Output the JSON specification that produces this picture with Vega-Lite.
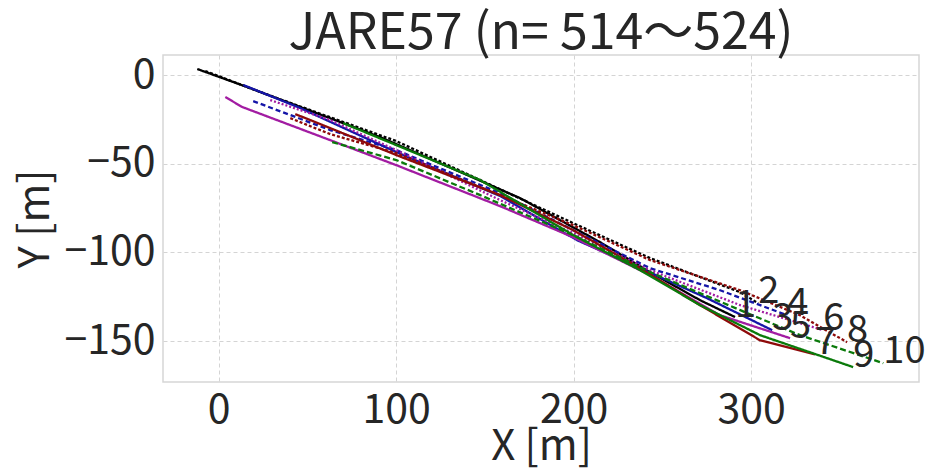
{
  "$schema": "https://vega.github.io/schema/vega-lite/v6.json",
  "width": 756,
  "height": 327,
  "autosize": {"type": "none"},
  "padding": {"left": 163, "top": 55, "right": 16, "bottom": 90},
  "background": "white",
  "config": {
    "font": "Noto Sans CJK JP",
    "view": {"stroke": "#d6d6d6", "strokeWidth": 1.5},
    "axis": {
      "domain": false,
      "ticks": false,
      "grid": true,
      "gridColor": "#d4d4d4",
      "gridDash": [4, 3],
      "gridWidth": 1,
      "labelFont": "Noto Sans CJK JP",
      "labelFontSize": 41,
      "labelColor": "#262626",
      "labelPadding": 8,
      "titleFont": "Noto Sans CJK JP",
      "titleFontSize": 42,
      "titleFontWeight": "normal",
      "titleColor": "#262626"
    }
  },
  "title": {
    "text": "JARE57 (n= 514〜524)",
    "font": "Noto Sans CJK JP",
    "fontSize": 50,
    "fontWeight": "normal",
    "color": "#262626",
    "anchor": "middle",
    "offset": -5
  },
  "datasets": {
    "tracks": [
      {"id": 1, "i": 0, "x": -12.0, "y": 3.4},
      {"id": 1, "i": 1, "x": 16.2, "y": -6.8},
      {"id": 1, "i": 2, "x": 91.1, "y": -35.0},
      {"id": 1, "i": 3, "x": 169.9, "y": -69.4},
      {"id": 1, "i": 4, "x": 214.9, "y": -94.2},
      {"id": 1, "i": 5, "x": 243.0, "y": -111.1},
      {"id": 1, "i": 6, "x": 271.2, "y": -126.9},
      {"id": 1, "i": 7, "x": 290.9, "y": -136.4},

      {"id": 2, "i": 0, "x": -7.5, "y": 2.3},
      {"id": 2, "i": 1, "x": 23.5, "y": -9.6},
      {"id": 2, "i": 2, "x": 100.1, "y": -37.2},
      {"id": 2, "i": 3, "x": 147.4, "y": -59.2},
      {"id": 2, "i": 4, "x": 199.8, "y": -83.5},
      {"id": 2, "i": 5, "x": 243.1, "y": -103.2},
      {"id": 2, "i": 6, "x": 293.8, "y": -122.4},
      {"id": 2, "i": 7, "x": 303.9, "y": -128.6},

      {"id": 3, "i": 0, "x": 13.9, "y": -5.6},
      {"id": 3, "i": 1, "x": 46.0, "y": -18.6},
      {"id": 3, "i": 2, "x": 100.1, "y": -43.4},
      {"id": 3, "i": 3, "x": 158.6, "y": -68.2},
      {"id": 3, "i": 4, "x": 202.0, "y": -93.1},
      {"id": 3, "i": 5, "x": 237.5, "y": -108.9},
      {"id": 3, "i": 6, "x": 275.2, "y": -125.8},
      {"id": 3, "i": 7, "x": 311.8, "y": -143.8},

      {"id": 4, "i": 0, "x": 19.5, "y": -14.7},
      {"id": 4, "i": 1, "x": 62.9, "y": -31.0},
      {"id": 4, "i": 2, "x": 100.1, "y": -42.3},
      {"id": 4, "i": 3, "x": 158.6, "y": -66.6},
      {"id": 4, "i": 4, "x": 199.7, "y": -87.4},
      {"id": 4, "i": 5, "x": 243.1, "y": -108.9},
      {"id": 4, "i": 6, "x": 282.5, "y": -121.3},
      {"id": 4, "i": 7, "x": 320.3, "y": -135.4},

      {"id": 5, "i": 0, "x": 3.8, "y": -12.4},
      {"id": 5, "i": 1, "x": 13.3, "y": -18.0},
      {"id": 5, "i": 2, "x": 62.9, "y": -36.7},
      {"id": 5, "i": 3, "x": 100.1, "y": -50.8},
      {"id": 5, "i": 4, "x": 158.6, "y": -73.9},
      {"id": 5, "i": 5, "x": 199.7, "y": -91.4},
      {"id": 5, "i": 6, "x": 243.1, "y": -112.8},
      {"id": 5, "i": 7, "x": 282.5, "y": -135.4},
      {"id": 5, "i": 8, "x": 321.9, "y": -148.3},

      {"id": 6, "i": 0, "x": 29.1, "y": -14.1},
      {"id": 6, "i": 1, "x": 62.9, "y": -25.4},
      {"id": 6, "i": 2, "x": 100.1, "y": -42.3},
      {"id": 6, "i": 3, "x": 158.6, "y": -70.5},
      {"id": 6, "i": 4, "x": 199.7, "y": -89.1},
      {"id": 6, "i": 5, "x": 243.1, "y": -110.0},
      {"id": 6, "i": 6, "x": 293.8, "y": -129.7},
      {"id": 6, "i": 7, "x": 340.6, "y": -143.8},

      {"id": 7, "i": 0, "x": 43.2, "y": -22.0},
      {"id": 7, "i": 1, "x": 62.9, "y": -29.9},
      {"id": 7, "i": 2, "x": 100.1, "y": -45.1},
      {"id": 7, "i": 3, "x": 158.6, "y": -67.7},
      {"id": 7, "i": 4, "x": 199.7, "y": -87.4},
      {"id": 7, "i": 5, "x": 237.5, "y": -108.9},
      {"id": 7, "i": 6, "x": 271.2, "y": -129.7},
      {"id": 7, "i": 7, "x": 305.0, "y": -149.5},
      {"id": 7, "i": 8, "x": 335.9, "y": -157.4},

      {"id": 8, "i": 0, "x": 40.4, "y": -24.3},
      {"id": 8, "i": 1, "x": 62.9, "y": -33.3},
      {"id": 8, "i": 2, "x": 100.1, "y": -44.0},
      {"id": 8, "i": 3, "x": 158.6, "y": -67.7},
      {"id": 8, "i": 4, "x": 199.7, "y": -84.6},
      {"id": 8, "i": 5, "x": 243.1, "y": -104.3},
      {"id": 8, "i": 6, "x": 293.8, "y": -121.3},
      {"id": 8, "i": 7, "x": 327.5, "y": -135.4},
      {"id": 8, "i": 8, "x": 354.0, "y": -150.6},

      {"id": 9, "i": 0, "x": 70.2, "y": -27.1},
      {"id": 9, "i": 1, "x": 100.1, "y": -39.5},
      {"id": 9, "i": 2, "x": 147.4, "y": -59.2},
      {"id": 9, "i": 3, "x": 199.7, "y": -90.2},
      {"id": 9, "i": 4, "x": 237.5, "y": -110.0},
      {"id": 9, "i": 5, "x": 271.2, "y": -129.7},
      {"id": 9, "i": 6, "x": 305.0, "y": -146.6},
      {"id": 9, "i": 7, "x": 357.4, "y": -164.6},

      {"id": 10, "i": 0, "x": 64.0, "y": -37.8},
      {"id": 10, "i": 1, "x": 100.1, "y": -47.9},
      {"id": 10, "i": 2, "x": 147.4, "y": -67.7},
      {"id": 10, "i": 3, "x": 199.7, "y": -90.2},
      {"id": 10, "i": 4, "x": 243.1, "y": -111.1},
      {"id": 10, "i": 5, "x": 293.8, "y": -132.5},
      {"id": 10, "i": 6, "x": 327.5, "y": -146.6},
      {"id": 10, "i": 7, "x": 374.4, "y": -162.4}
    ],
    "labels": [
      {"label": "1", "x": 290.9, "y": -136.4},
      {"label": "2", "x": 303.9, "y": -128.6},
      {"label": "3", "x": 311.8, "y": -143.8},
      {"label": "4", "x": 320.3, "y": -135.4},
      {"label": "5", "x": 321.9, "y": -148.3},
      {"label": "6", "x": 340.6, "y": -143.8},
      {"label": "7", "x": 335.9, "y": -157.4},
      {"label": "8", "x": 354.0, "y": -150.6},
      {"label": "9", "x": 357.4, "y": -164.6},
      {"label": "10", "x": 374.4, "y": -162.4}
    ]
  },
  "layer": [
    {
      "data": {"name": "tracks"},
      "mark": {"type": "line", "strokeWidth": 2.3, "clip": true},
      "encoding": {
        "x": {
          "field": "x",
          "type": "quantitative",
          "scale": {"domain": [-31.3, 394.5], "nice": false, "zero": false},
          "axis": {"values": [0, 100, 200, 300], "title": "X [m]", "titlePadding": -4}
        },
        "y": {
          "field": "y",
          "type": "quantitative",
          "scale": {"domain": [-173.0, 11.3], "nice": false, "zero": false},
          "axis": {"values": [0, -50, -100, -150], "title": "Y [m]", "titlePadding": 6}
        },
        "order": {"field": "i", "type": "quantitative"},
        "color": {
          "field": "id",
          "type": "nominal",
          "legend": null,
          "scale": {
            "domain": [1, 2, 3, 4, 5, 6, 7, 8, 9, 10],
            "range": ["#000000", "#000000", "#1515a8", "#1515a8", "#a21ca2", "#a21ca2", "#8e0a0a", "#8e0a0a", "#0a7a0a", "#0a7a0a"]
          }
        },
        "strokeDash": {
          "field": "id",
          "type": "nominal",
          "legend": null,
          "scale": {
            "domain": [1, 2, 3, 4, 5, 6, 7, 8, 9, 10],
            "range": [[1, 0], [3, 2], [1, 0], [5, 3], [1, 0], [2, 2], [1, 0], [3, 2], [1, 0], [6, 3]]
          }
        }
      }
    },
    {
      "data": {"name": "labels"},
      "mark": {"type": "text", "align": "left", "baseline": "alphabetic", "fontSize": 38, "color": "#262626", "font": "Noto Sans CJK JP"},
      "encoding": {
        "x": {"field": "x", "type": "quantitative"},
        "y": {"field": "y", "type": "quantitative"},
        "text": {"field": "label", "type": "nominal"}
      }
    }
  ]
}
